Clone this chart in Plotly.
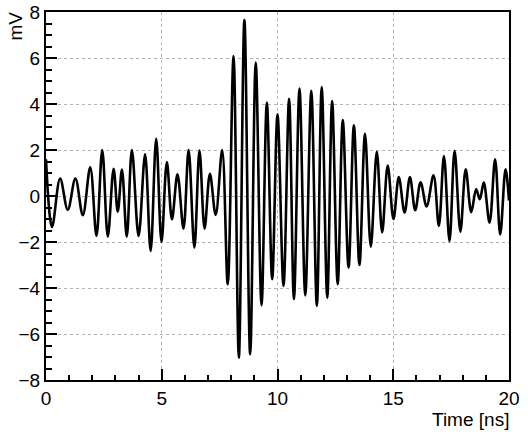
import plotly.graph_objects as go

# Waveform extrema (time in ns, amplitude in mV)
time_ns = [
    0.00, 0.26, 0.61, 0.94, 1.27, 1.59, 1.91, 2.18, 2.43, 2.67,
    2.92, 3.10, 3.28, 3.49, 3.71, 4.00, 4.28, 4.52, 4.76, 4.99,
    5.22, 5.44, 5.68, 5.94, 6.16, 6.41, 6.63, 6.85, 7.08, 7.33,
    7.61, 7.85, 8.10, 8.33, 8.57, 8.82, 9.06, 9.31, 9.54, 9.77,
    10.00, 10.26, 10.50, 10.71, 10.95, 11.20, 11.46, 11.70, 11.91, 12.15,
    12.36, 12.60, 12.82, 13.07, 13.30, 13.54, 13.78, 14.03, 14.29, 14.52,
    14.76, 15.01, 15.24, 15.49, 15.72, 15.95, 16.18, 16.44, 16.74, 16.97,
    17.19, 17.43, 17.65, 17.90, 18.13, 18.37, 18.58, 18.74, 18.91, 19.16,
    19.40, 19.62, 19.85, 20.00,
]
signal_mv = [
    1.60, -1.35, 0.76, -0.60, 0.76, -0.84, 1.25, -1.73, 2.00, -1.77,
    1.18, -0.68, 1.15, -1.77, 2.00, -1.74, 1.81, -2.39, 2.49, -2.00,
    1.48, -1.01, 0.94, -1.42, 2.00, -2.24, 1.98, -1.42, 0.96, -0.82,
    2.00, -3.84, 6.09, -7.03, 7.65, -6.88, 5.80, -4.75, 4.06, -3.62,
    3.55, -3.91, 4.23, -4.49, 4.67, -4.32, 4.57, -4.78, 4.74, -4.42,
    4.13, -3.84, 3.30, -3.11, 3.07, -3.00, 2.70, -2.20, 1.92, -1.58,
    1.32, -1.00, 0.82, -0.72, 0.82, -0.62, 0.60, -0.45, 0.90, -1.30,
    1.74, -1.96, 1.96, -1.55, 1.16, -0.70, 0.29, -0.14, 0.58, -1.16,
    1.60, -1.67, 1.16, -0.20,
]

x_ticks = [0, 5, 10, 15, 20]
y_ticks = [-8, -6, -4, -2, 0, 2, 4, 6, 8]

FONT = "Liberation Sans, Arial, Helvetica, sans-serif"

fig = go.Figure()
fig.add_trace(go.Scatter(
    x=time_ns, y=signal_mv, mode="lines",
    line=dict(color="black", width=2.6, shape="spline", smoothing=1.0),
    showlegend=False, hoverinfo="skip",
))

axis_common = dict(
    showline=True, linecolor="black", linewidth=2, mirror=True,
    ticks="inside", ticklen=11, tickwidth=2, tickcolor="black",
    showgrid=True, gridcolor="#b4b4b4", gridwidth=1, griddash="dot",
    zeroline=False, automargin=False,
    tickfont=dict(family=FONT, size=19, color="black"),
)

fig.update_xaxes(
    range=[0, 20], tickvals=x_ticks, ticktext=[str(v) for v in x_ticks],
    minor=dict(ticks="inside", ticklen=5, tickwidth=2, tickcolor="black",
               dtick=1, tick0=0, showgrid=False),
    **axis_common,
)
fig.update_yaxes(
    range=[-8, 8], tickvals=y_ticks,
    ticktext=[("\u2212" + str(-v)) if v < 0 else str(v) for v in y_ticks],
    minor=dict(ticks="inside", ticklen=6, tickwidth=2, tickcolor="black",
               dtick=0.5, tick0=0, showgrid=False),
    **axis_common,
)

fig.add_annotation(
    text="Time [ns]", xref="paper", yref="paper", x=1.0, y=0,
    xanchor="right", yanchor="top", yshift=-27, xshift=2, showarrow=False,
    font=dict(family=FONT, size=19, color="black"),
)
fig.add_annotation(
    text="mV", xref="paper", yref="paper", x=0, y=1.0,
    xanchor="center", yanchor="top", xshift=-31, yshift=2, textangle=-90,
    showarrow=False, font=dict(family=FONT, size=19, color="black"),
)

fig.update_layout(
    width=528, height=434,
    margin=dict(l=46, r=19, t=12, b=54),
    paper_bgcolor="white", plot_bgcolor="white",
    font=dict(family=FONT, size=19, color="black"),
)

fig.write_html(
    "out.html",
    config={"displayModeBar": False},
    post_script="document.body.style.margin='0';document.body.style.overflow='hidden';",
)
